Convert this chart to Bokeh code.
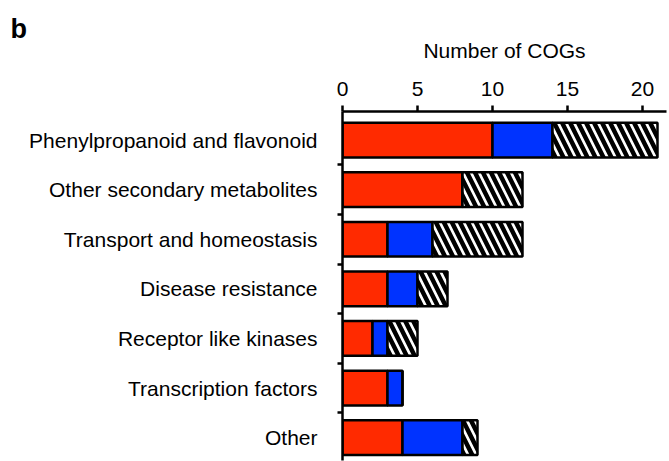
from bokeh.plotting import figure
from bokeh.models import Range1d, FixedTicker, ColumnDataSource
from bokeh.embed import file_html
from bokeh.resources import INLINE

categories = ["Phenylpropanoid and flavonoid", "Other secondary metabolites",
              "Transport and homeostasis", "Disease resistance",
              "Receptor like kinases", "Transcription factors", "Other"]
red_vals = [10, 8, 3, 3, 2, 3, 4]
blue_vals = [4, 0, 3, 2, 1, 1, 4]
hatch_vals = [7, 4, 6, 2, 2, 0, 1]
x_ticks = [0, 5, 10, 15, 20]

FONT = "Liberation Sans"
ypos = list(range(len(categories)))
r_end = [r for r in red_vals]
b_end = [r + b for r, b in zip(red_vals, blue_vals)]
h_end = [r + b + h for r, b, h in zip(red_vals, blue_vals, hatch_vals)]
src = ColumnDataSource(dict(y=ypos, zero=[0] * len(ypos), r=r_end, b=b_end, h=h_end))

p = figure(width=668, height=461, output_backend="svg", toolbar_location=None,
           x_range=Range1d(0, 21.6), y_range=Range1d(6.46, -0.575),
           x_axis_location="above", title="b",
           min_border_left=342, min_border_right=2, min_border_top=111, min_border_bottom=1)
p.outline_line_color = None
p.grid.visible = False
p.background_fill_color = "white"

p.title.align = "left"
p.title.offset = -332
p.title.text_font = FONT
p.title.text_font_size = "27px"
p.title.text_font_style = "bold"
p.title.text_color = "black"
p.title.standoff = -16

lw = 2.5
p.hbar(y="y", left="zero", right="r", height=0.7, source=src,
       fill_color="#FF2A00", line_color="black", line_width=lw)
p.hbar(y="y", left="r", right="b", height=0.7, source=src,
       fill_color="#0033FF", line_color="black", line_width=lw)
p.hbar(y="y", left="b", right="h", height=0.7, source=src,
       fill_color="white", hatch_pattern="\\", hatch_color="black",
       hatch_scale=16, hatch_weight=4.5, line_color="black", line_width=lw)

xa = p.xaxis[0]
xa.ticker = FixedTicker(ticks=x_ticks, minor_ticks=[])
xa.axis_label = "Number of COGs"
xa.axis_label_text_font = FONT
xa.axis_label_text_font_size = "21px"
xa.axis_label_text_font_style = "normal"
xa.axis_label_text_color = "black"
xa.axis_label_standoff = 17
xa.major_label_text_font = FONT
xa.major_label_text_font_size = "21px"
xa.major_label_text_color = "black"
xa.major_label_standoff = 10
xa.axis_line_width = 2.5
xa.major_tick_line_width = 2.5
xa.major_tick_out = 6
xa.major_tick_in = 0
xa.minor_tick_out = 0
xa.minor_tick_in = 0

ya = p.yaxis[0]
ya.ticker = FixedTicker(ticks=ypos, minor_ticks=[i + 0.5 for i in ypos[:-1]])
ya.major_label_overrides = {i: c for i, c in zip(ypos, categories)}
ya.major_label_text_font = FONT
ya.major_label_text_font_size = "21px"
ya.major_label_text_color = "black"
ya.major_label_standoff = 20
ya.major_tick_out = 0
ya.major_tick_in = 0
ya.minor_tick_out = 5
ya.minor_tick_in = 0
ya.minor_tick_line_width = 2.5
ya.axis_line_width = 2.5

open("out.html", "w").write(file_html(p, INLINE))
